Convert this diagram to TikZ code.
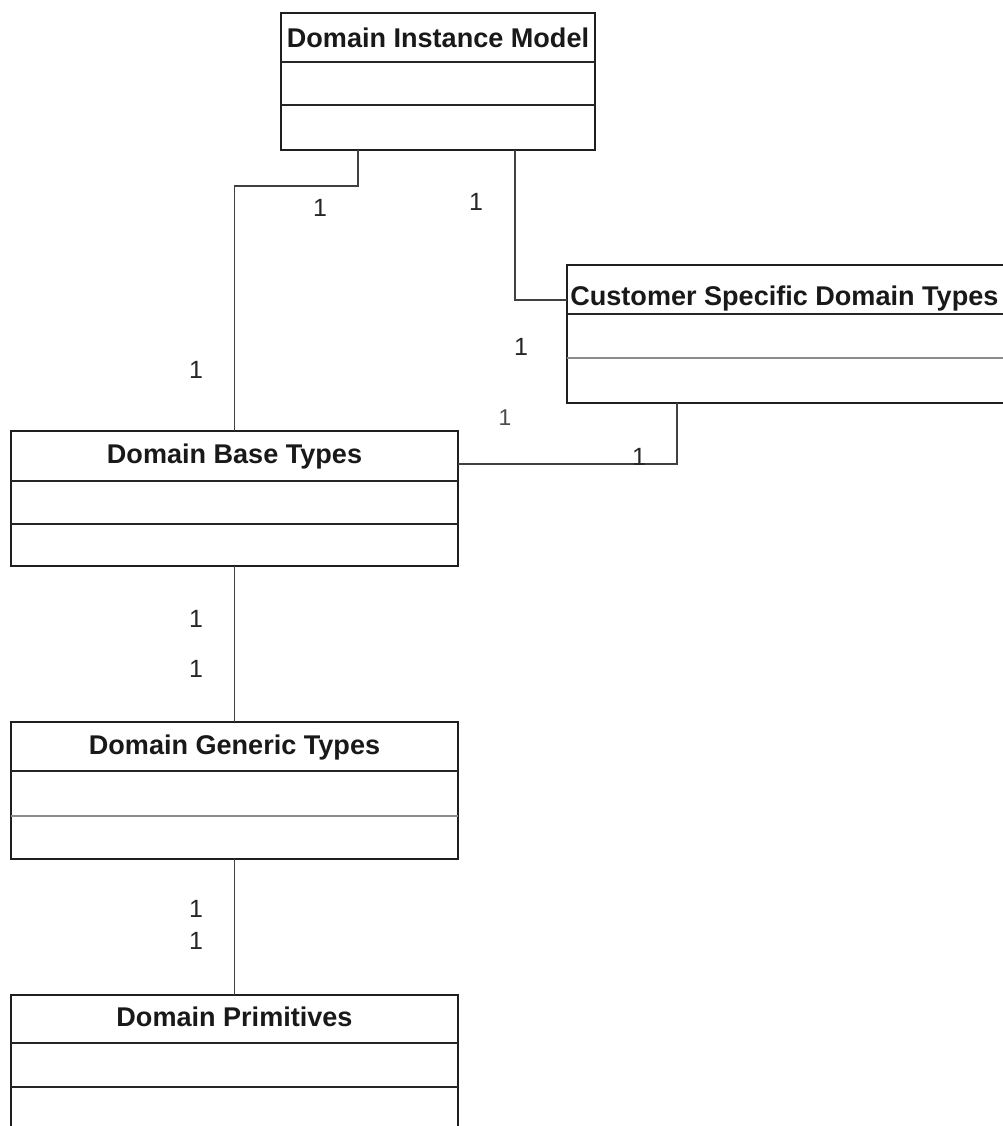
\documentclass[tikz,border=0pt]{standalone}
\usepackage{fontspec}
\setmainfont{Liberation Sans}
\newcommand{\pxu}{0.02cm}
\begin{document}
\begin{tikzpicture}[x=0.02cm, y=-0.02cm,
  classbox/.style={draw=black!88, line width=1.2pt, inner sep=0pt, outer sep=0pt, fill=white},
  divline/.style={draw=black!85, line width=1.1pt},
  softline/.style={draw=black!45, line width=0.8pt},
  title/.style={font=\fontsize{15.4pt}{17pt}\selectfont\bfseries, anchor=base, inner sep=0pt, text=black!90},
  mult/.style={font=\fontsize{14.2pt}{16pt}\selectfont, anchor=base, inner sep=0pt, text=black!85},
  thinmult/.style={mult, font=\fontsize{13pt}{15pt}\selectfont, text=black!70},
  link/.style={draw=black!75, line width=0.85pt}
]
\useasboundingbox (0,0) rectangle (1003,1126);
\clip (0,0) rectangle (1003,1126);

% class boxes
\node[classbox, minimum width=314*\pxu, minimum height=137*\pxu] (dim)  at (438,81.5) {};
\node[classbox, minimum width=473*\pxu, minimum height=138*\pxu] (csdt) at (803.5,334) {};
\node[classbox, minimum width=447*\pxu, minimum height=135*\pxu] (dbt)  at (234.5,498.5) {};
\node[classbox, minimum width=447*\pxu, minimum height=137*\pxu] (dgt)  at (234.5,790.5) {};
\node[classbox, minimum width=447*\pxu, minimum height=145*\pxu] (dp)   at (234.5,1067.5) {};

% compartment lines
\draw[divline] ([yshift=-49*\pxu]dim.north west) -- ([yshift=-49*\pxu]dim.north east);
\draw[divline] ([yshift=-92*\pxu]dim.north west) -- ([yshift=-92*\pxu]dim.north east);
\draw[divline] ([yshift=-49*\pxu]csdt.north west) -- ([yshift=-49*\pxu]csdt.north east);
\draw[softline] ([yshift=-93*\pxu]csdt.north west) -- ([yshift=-93*\pxu]csdt.north east);
\draw[divline] ([yshift=-50*\pxu]dbt.north west) -- ([yshift=-50*\pxu]dbt.north east);
\draw[divline] ([yshift=-93*\pxu]dbt.north west) -- ([yshift=-93*\pxu]dbt.north east);
\draw[divline] ([yshift=-49*\pxu]dgt.north west) -- ([yshift=-49*\pxu]dgt.north east);
\draw[softline] ([yshift=-94*\pxu]dgt.north west) -- ([yshift=-94*\pxu]dgt.north east);
\draw[divline] ([yshift=-48*\pxu]dp.north west) -- ([yshift=-48*\pxu]dp.north east);
\draw[divline] ([yshift=-92*\pxu]dp.north west) -- ([yshift=-92*\pxu]dp.north east);

% class names
\node[title] (dim-name)  at (438,47) {Domain Instance Model};
\node[title, anchor=base west] (csdt-name) at (570,305) {Customer Specific Domain Types};
\node[title] (dbt-name)  at (234.5,463) {Domain Base Types};
\node[title] (dgt-name)  at (234.5,754) {Domain Generic Types};
\node[title] (dp-name)   at (234.5,1026) {Domain Primitives};

% bend points of the associations
\coordinate (k1) at (358,186);
\coordinate (k2) at (515,300);
\coordinate (k3) at (677,464);

% associations
\draw[link] (dim.south -| k1) -- (k1) -| (dbt.north);
\draw[link] (dim.south -| k2) |- (csdt.west |- k2);
\draw[link] (csdt.south -| k3) |- (dbt.east |- k3);
\draw[link] (dbt.south) -- (dgt.north);
\draw[link] (dgt.south) -- (dp.north);

% multiplicities
\node[mult] (m1)  at (320,216) {1};
\node[mult] (m2)  at (476,210) {1};
\node[mult] (m3)  at (196,378) {1};
\node[mult] (m4)  at (521,355) {1};
\node[thinmult] (m5) at (505,425) {1};
\node[mult] (m6)  at (639,465) {1};
\node[mult] (m7)  at (196,627) {1};
\node[mult] (m8)  at (196,677) {1};
\node[mult] (m9)  at (196,917) {1};
\node[mult] (m10) at (196,949) {1};
\end{tikzpicture}
\end{document}
